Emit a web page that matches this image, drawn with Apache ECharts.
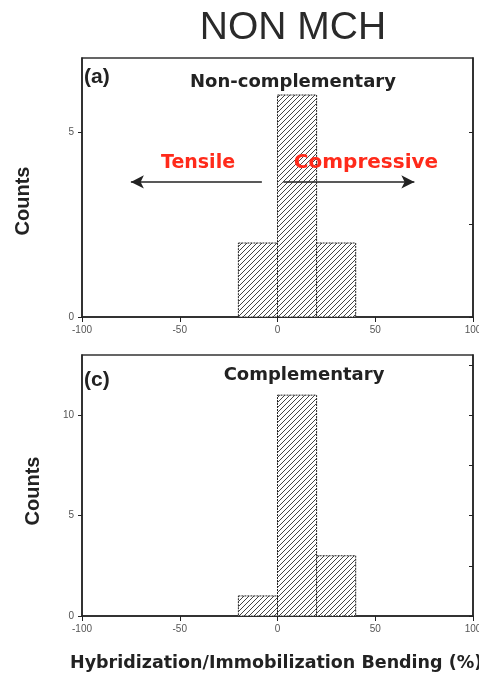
<!DOCTYPE html>
<html>
<head>
<meta charset="utf-8">
<script src="https://cdn.jsdelivr.net/npm/echarts@6/dist/echarts.min.js"></script>
<style>
  html, body { margin: 0; padding: 0; background: #fff; }
  #main { width: 479px; height: 677px; }
</style>
</head>
<body>
<div id="main"></div>
<script>
// histogram bins (bending %) and counts for each panel
var binStart = [-20, 0, 20];
var binEnd = [0, 20, 40];
var countsNonComp = [2, 6, 2];
var countsComp = [1, 11, 3];
var xTicks = [-100, -50, 0, 50, 100];
var yLabelsTop = [0, 5];
var yTicksTopRight = [0, 2.5, 5];
var yLabelsBottom = [0, 5, 10];
var yTicksBottomRight = [0, 2.5, 5, 7.5, 10, 12.5];

// hatch pattern ///
var hatch = document.createElement('canvas');
hatch.width = 5; hatch.height = 5;
var hctx = hatch.getContext('2d');
hctx.fillStyle = '#fff';
hctx.fillRect(0, 0, 5, 5);
hctx.strokeStyle = '#444';
hctx.lineWidth = 1;
hctx.beginPath();
hctx.moveTo(-1, 6); hctx.lineTo(6, -1);
hctx.moveTo(-1, 1); hctx.lineTo(1, -1);
hctx.moveTo(4, 6); hctx.lineTo(6, 4);
hctx.stroke();

function toData(counts) {
    var d = [];
    for (var i = 0; i < counts.length; i++) {
        d.push([binStart[i], binEnd[i], counts[i]]);
    }
    return d;
}

function renderBin(params, api) {
    var p0 = api.coord([api.value(0), api.value(2)]);
    var p1 = api.coord([api.value(1), 0]);
    return {
        type: 'rect',
        shape: { x: p0[0], y: p0[1], width: p1[0] - p0[0], height: p1[1] - p0[1] },
        style: {
            fill: { image: hatch, repeat: 'repeat' },
            stroke: '#222',
            lineWidth: 1,
            lineDash: [2, 1]
        }
    };
}

function xAxisFor(gridIndex) {
    return {
        type: 'value', gridIndex: gridIndex, min: -100, max: 100, interval: 50,
        axisLine: { show: true, onZero: false, lineStyle: { color: '#222', width: 1.5 } },
        axisTick: { show: true, inside: false, length: 5, lineStyle: { color: '#222' } },
        axisLabel: { show: true, margin: 8, fontSize: 10, color: '#555', fontFamily: 'Liberation Sans',
                     customValues: xTicks },
        splitLine: { show: false }
    };
}

function yLeft(gridIndex, max, labels) {
    return {
        type: 'value', gridIndex: gridIndex, min: 0, max: max, position: 'left',
        axisLine: { show: true, onZero: false, lineStyle: { color: '#222', width: 1.5 } },
        axisTick: { show: true, inside: false, length: 4, customValues: labels, lineStyle: { color: '#222' } },
        axisLabel: { show: true, margin: 8, fontSize: 10, color: '#555', fontFamily: 'Liberation Sans',
                     customValues: labels },
        splitLine: { show: false }
    };
}

function yRight(gridIndex, max, ticks) {
    return {
        type: 'value', gridIndex: gridIndex, min: 0, max: max, position: 'right',
        axisLine: { show: true, onZero: false, lineStyle: { color: '#222', width: 1.5 } },
        axisTick: { show: true, inside: true, length: 4, customValues: ticks, lineStyle: { color: '#222' } },
        axisLabel: { show: false },
        splitLine: { show: false }
    };
}

var myChart = echarts.init(document.getElementById('main'));
var option = {
    backgroundColor: '#fff',
    animation: false,
    grid: [
        { left: 82, width: 391, top: 58, height: 259, show: true, borderColor: '#333', borderWidth: 1.5,
          outerBoundsMode: 'none', containLabel: false },
        { left: 82, width: 391, top: 355, height: 261, show: true, borderColor: '#333', borderWidth: 1.5,
          outerBoundsMode: 'none', containLabel: false }
    ],
    xAxis: [xAxisFor(0), xAxisFor(1)],
    yAxis: [
        yLeft(0, 7, yLabelsTop), yRight(0, 7, yTicksTopRight),
        yLeft(1, 13, yLabelsBottom), yRight(1, 13, yTicksBottomRight)
    ],
    series: [
        {
            type: 'custom', xAxisIndex: 0, yAxisIndex: 0,
            renderItem: renderBin, data: toData(countsNonComp),
            encode: { x: [0, 1], y: 2 },
            markLine: {
                silent: true,
                symbol: ['none', 'arrow'],
                symbolSize: [10, 13],
                label: { show: false },
                lineStyle: { color: '#222', width: 1.5, type: 'solid' },
                data: [
                    [{ coord: [-8, 3.65] }, { coord: [-75, 3.65] }],
                    [{ coord: [3, 3.65] }, { coord: [70, 3.65] }]
                ]
            }
        },
        {
            type: 'custom', xAxisIndex: 1, yAxisIndex: 2,
            renderItem: renderBin, data: toData(countsComp),
            encode: { x: [0, 1], y: 2 }
        }
    ],
    graphic: [
        { type: 'text', z: 100, style: { text: 'NON MCH', x: 293, y: 28, align: 'center', verticalAlign: 'middle',
            font: '39px "Liberation Sans", Arial', fill: '#2a2a2a' } },
        { type: 'text', z: 100, style: { text: '(a)', x: 84, y: 77, verticalAlign: 'middle',
            font: 'bold 21px "Liberation Sans", Arial', fill: '#222' } },
        { type: 'text', z: 100, style: { text: 'Non-complementary', x: 293, y: 82, align: 'center', verticalAlign: 'middle',
            font: 'bold 18px "DejaVu Sans"', fill: '#222' } },
        { type: 'text', z: 100, style: { text: 'Tensile', x: 198, y: 163, align: 'center', verticalAlign: 'middle',
            font: 'bold 19px "DejaVu Sans"', fill: '#ff2a1a' } },
        { type: 'text', z: 100, style: { text: 'Compressive', x: 366, y: 163, align: 'center', verticalAlign: 'middle',
            font: 'bold 20px "DejaVu Sans"', fill: '#ff2a1a' } },
        { type: 'text', z: 100, rotation: Math.PI / 2, x: 23, y: 201, style: { text: 'Counts', align: 'center', verticalAlign: 'middle',
            font: 'bold 20px "Liberation Sans", Arial', fill: '#222' } },
        { type: 'text', z: 100, style: { text: '(c)', x: 84, y: 380, verticalAlign: 'middle',
            font: 'bold 21px "Liberation Sans", Arial', fill: '#222' } },
        { type: 'text', z: 100, style: { text: 'Complementary', x: 304, y: 375, align: 'center', verticalAlign: 'middle',
            font: 'bold 18px "DejaVu Sans"', fill: '#222' } },
        { type: 'text', z: 100, rotation: Math.PI / 2, x: 33, y: 491, style: { text: 'Counts', align: 'center', verticalAlign: 'middle',
            font: 'bold 20px "Liberation Sans", Arial', fill: '#222' } },
        { type: 'text', z: 100, style: { text: 'Hybridization/Immobilization Bending (%)', x: 70, y: 663, verticalAlign: 'middle',
            font: 'bold 17.5px "DejaVu Sans"', fill: '#222' } }
    ]
};
myChart.setOption(option);
window.addEventListener('resize', function () {
    myChart.resize();
});
</script>
</body>
</html>
